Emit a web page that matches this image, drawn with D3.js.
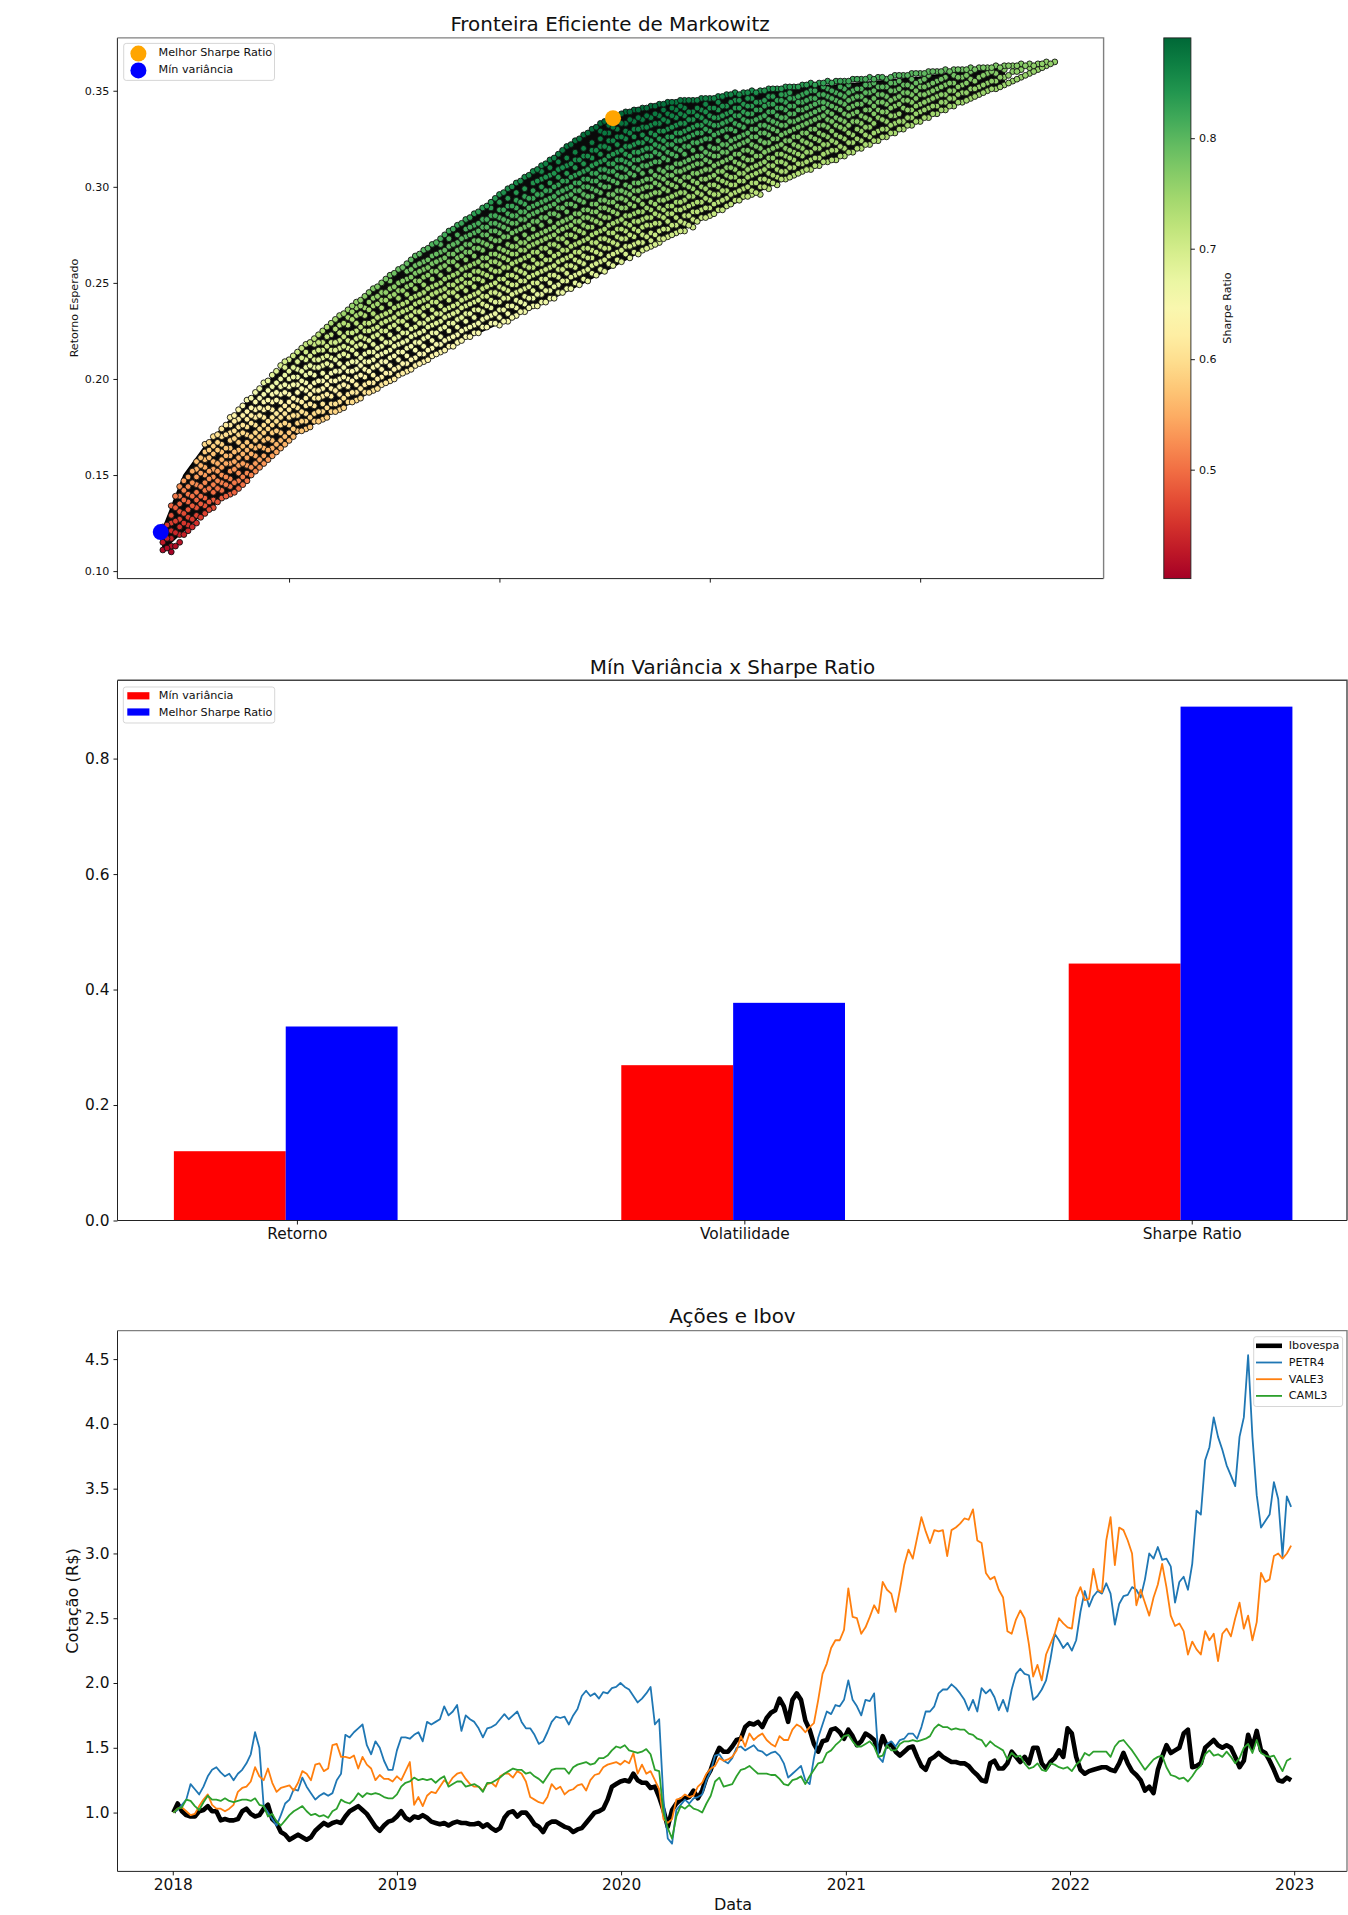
<!DOCTYPE html>
<html>
<head>
<meta charset="utf-8">
<title>Markowitz</title>
<script src="https://cdnjs.cloudflare.com/ajax/libs/d3/7.8.5/d3.min.js"></script>
<style>
    body { margin: 0; background: #fff; }
    svg { display: block; font-family: "DejaVu Sans", sans-serif; }
    .ax path { display: none; }
    .ax line { stroke: #000; stroke-width: 0.9; }
    .ax text { fill: #111; }
</style>
</head>
<body>
<div id="graph"></div>
<script>
// ---- panel 1: values ----
var volTicks = [0.30, 0.35, 0.40, 0.45];
var retTicks = [0.10, 0.15, 0.20, 0.25, 0.30, 0.35];
var sharpeTicks = [0.5, 0.6, 0.7, 0.8];

var bestPoint = [0.377, 0.3357];
var minVarPoint = [0.2695, 0.1203];

// outline of the dense part of the cloud
var edgeVol =   [.270,.275,.280,.290,.300,.310,.320,.330,.340,.350,.360,.370,.380,.390,.400,.410,.420,.430,.440,.450,.460,.470];
var edgeUpper = [.122,.150,.165,.188,.209,.228,.246,.263,.279,.296,.311,.327,.338,.343,.346,.349,.352,.353,.355,.357,.360,.362];
var edgeLower = [.111,.121,.131,.147,.169,.182,.194,.207,.219,.229,.239,.250,.262,.274,.285,.296,.306,.315,.325,.335,.345,.354];

// cloud of portfolios, estimated: [vol, returns...] all in thousandths
var cloud = [
[270,111,115,119,123],
[272,110,113,117,121,125,129,134],
[274,115,119,123,127,131,135,139,144],
[276,121,124,128,132,136,140,144,149],
[278,125,129,133,137,141,145,149,153,157],
[280,130,134,138,142,146,150,154,158,162,166],
[282,133,137,141,145,149,153,157,161,165,170],
[284,138,142,146,150,154,158,162,166,170,174],
[286,140,144,148,152,156,160,164,168,172,176,180],
[288,143,147,151,155,159,163,167,171,175,179,184],
[290,147,151,155,159,163,167,171,175,179,183,189],
[292,152,156,160,164,168,172,176,180,184,188,193],
[294,156,160,164,168,172,176,180,184,188,192,198],
[296,160,164,168,172,176,180,184,188,192,196,202],
[298,164,168,172,176,180,184,188,192,196,200,207],
[300,168,172,176,180,184,188,192,196,200,204,210],
[302,173,177,181,185,189,193,197,201,205,209,214],
[304,174,178,182,186,190,194,198,202,206,210,214,218],
[306,178,182,186,190,194,198,202,206,210,214,218,221],
[308,179,183,187,191,195,199,203,207,211,215,219,225],
[310,183,187,191,195,199,203,207,211,215,219,223,229],
[312,184,188,192,196,200,204,208,212,216,220,224,228,233],
[314,188,192,196,200,204,208,212,216,220,224,228,232,236],
[316,189,193,197,201,205,209,213,217,221,225,229,233,237,240],
[318,193,197,201,205,209,213,217,221,225,229,233,237,243],
[320,194,198,202,206,210,214,218,222,226,230,234,238,242,247],
[322,197,201,205,209,213,217,221,225,229,233,237,241,245,250],
[324,199,203,207,211,215,219,223,227,231,235,239,243,247,251,254],
[326,202,206,210,214,218,222,226,230,234,238,242,246,250,257],
[328,204,208,212,216,220,224,228,232,236,240,244,248,252,256,260],
[330,207,211,215,219,223,227,231,235,239,243,247,251,255,259,264],
[332,209,213,217,221,225,229,233,237,241,245,249,253,257,261,267],
[334,212,216,220,224,228,232,236,240,244,248,252,256,260,264,270],
[336,214,218,222,226,230,234,238,242,246,250,254,258,262,266,270,273],
[338,217,221,225,229,233,237,241,245,249,253,257,261,265,269,273,277],
[340,219,223,227,231,235,239,243,247,251,255,259,263,267,271,275,280],
[342,222,226,230,234,238,242,246,250,254,258,262,266,270,274,278,283],
[344,224,228,232,236,240,244,248,252,256,260,264,268,272,276,280,286],
[346,227,231,235,239,243,247,251,255,259,263,267,271,275,279,283,289],
[348,229,233,237,241,245,249,253,257,261,265,269,273,277,281,285,289,292],
[350,228,232,236,240,244,248,252,256,260,264,268,272,276,280,284,288,292,296],
[352,230,234,238,242,246,250,254,258,262,266,270,274,278,282,286,290,294,299],
[354,233,237,241,245,249,253,257,261,265,269,273,277,281,285,289,293,297,302],
[356,235,239,243,247,251,255,259,263,267,271,275,279,283,287,291,295,299,305],
[358,238,242,246,250,254,258,262,266,270,274,278,282,286,290,294,298,302,308],
[360,240,244,248,252,256,260,264,268,272,276,280,284,288,292,296,300,304,308,311],
[362,242,246,250,254,258,262,266,270,274,278,282,286,290,294,298,302,306,310,314],
[364,245,249,253,257,261,265,269,273,277,281,285,289,293,297,301,305,309,313,317],
[366,247,251,255,259,263,267,271,275,279,283,287,291,295,299,303,307,311,315,321],
[368,250,254,258,262,266,270,274,278,282,286,290,294,298,302,306,310,314,318,324],
[370,252,256,260,264,268,272,276,280,284,288,292,296,300,304,308,312,316,320,327],
[372,255,259,263,267,271,275,279,283,287,291,295,299,303,307,311,315,319,323,330],
[374,257,261,265,269,273,277,281,285,289,293,297,301,305,309,313,317,321,325,329,333],
[376,260,264,268,272,276,280,284,288,292,296,300,304,308,312,316,320,324,328,332,335],
[378,262,266,270,274,278,282,286,290,294,298,302,306,310,314,318,322,326,330,334,337],
[380,265,269,273,277,281,285,289,293,297,301,305,309,313,317,321,325,329,333,339],
[382,266,270,274,278,282,286,290,294,298,302,306,310,314,318,322,326,330,334,340],
[384,267,271,275,279,283,287,291,295,299,303,307,311,315,319,323,327,331,335,341],
[386,269,272,276,280,284,288,292,296,300,304,308,312,316,320,324,328,332,336,342],
[388,271,273,277,281,285,289,293,297,301,305,309,313,317,321,325,329,333,337,343],
[390,274,278,282,286,290,294,298,302,306,310,314,318,322,326,330,334,338,344],
[392,276,280,284,288,292,296,300,304,308,312,316,320,324,328,332,336,340,344],
[394,277,281,285,289,293,297,301,305,309,313,317,321,325,329,333,337,341,345],
[396,279,283,287,291,295,299,303,307,311,315,319,323,327,331,335,339,345],
[398,284,288,292,296,300,304,308,312,316,320,324,328,332,336,340,346],
[400,285,289,293,297,301,305,309,313,317,321,325,329,333,337,341,346],
[402,288,292,296,300,304,308,312,316,320,324,328,332,336,340,344,347],
[404,290,294,298,302,306,310,314,318,322,326,330,334,338,342,348],
[406,293,297,301,305,309,313,317,321,325,329,333,337,341,345,349],
[408,295,299,303,307,311,315,319,323,327,331,335,339,343,349],
[410,296,298,302,306,310,314,318,322,326,330,334,338,342,346,350],
[412,296,300,304,308,312,316,320,324,328,332,336,340,344,350],
[414,299,303,307,311,315,319,323,327,331,335,339,343,347,351],
[416,301,305,309,313,317,321,325,329,333,337,341,345,351],
[418,304,308,312,316,320,324,328,332,336,340,344,348,352],
[420,306,310,314,318,322,326,330,334,338,342,346,352],
[422,308,312,316,320,324,328,332,336,340,344,348,353],
[424,309,314,318,322,326,330,334,338,342,346,350,354],
[426,311,315,320,324,328,332,336,340,344,348,354],
[428,313,318,322,326,331,335,339,343,347,351,355],
[430,314,319,323,327,332,336,341,345,349,355],
[432,316,320,325,330,334,338,343,347,351,355],
[434,318,323,327,334,338,342,346,350,356],
[436,320,324,329,333,337,343,347,351,356],
[438,322,326,331,335,340,344,349,353,357],
[440,324,329,336,340,344,348,352,357],
[442,326,330,334,339,343,347,352,356],
[444,328,333,337,342,346,350,354,358],
[446,330,334,341,345,349,353,358],
[448,332,336,340,344,348,352,356,359],
[450,334,339,343,348,352,355,359],
[452,336,341,345,349,353,358,360],
[454,338,342,347,351,355,360],
[456,340,344,348,353,357,361],
[458,342,346,350,354,358,361],
[460,344,349,353,357,361],
[462,346,351,356,360,362],
[464,348,352,357,362],
[466,350,354,359,362],
[468,351,355,359,363],
[470,353,357,361,363],
[472,355,360,363],
[474,357,361,364],
[476,359,362,364],
[478,361,364],
[480,363,365],
[482,365],
[271,112,117,124],
[273,113,120,126,133,139],
[275,119,125,130,137,142,147],
[277,123,127,134,139,146,152],
[279,128,135,139,144,151,155,159],
[281,132,136,143,148,152,159,163,167],
[283,136,143,147,152,156,163,167,171],
[285,139,145,149,156,160,164,171,176],
[287,141,146,153,157,162,169,173,178,181],
[289,145,149,156,161,165,172,176,181,186],
[291,150,154,161,165,170,177,181,185,190],
[293,154,158,165,170,174,181,185,190,195],
[295,158,163,169,174,178,185,189,194,199],
[297,162,166,173,178,182,189,193,198,204],
[299,166,170,177,182,186,193,197,202,206,209],
[301,170,174,181,186,190,197,201,206,212],
[303,173,178,183,188,195,199,204,211,216],
[305,175,180,187,192,196,203,207,212,219],
[307,178,183,190,194,199,206,210,215,219,223],
[309,180,185,192,197,201,208,212,217,222,227],
[311,183,187,194,199,204,210,215,219,226,231],
[313,185,190,197,201,206,213,217,222,229,234],
[315,188,193,199,204,209,215,219,224,231,235,238],
[317,190,195,202,207,211,218,222,227,234,238,241],
[319,193,198,204,209,214,220,225,229,236,240,245],
[321,195,200,207,212,216,223,227,232,239,243,248],
[323,198,203,209,214,219,225,230,234,241,245,252],
[325,200,205,212,217,221,228,232,237,244,248,255],
[327,203,208,214,219,224,230,235,239,246,251,258],
[329,205,210,217,222,226,233,237,242,249,253,257,262],
[331,208,213,219,224,229,235,240,244,251,256,260,265],
[333,210,215,222,227,231,238,242,247,254,258,262,268],
[335,213,218,224,229,234,240,245,249,256,261,265,271],
[337,215,220,227,232,236,243,247,252,259,263,267,275],
[339,217,222,229,234,238,245,249,254,261,265,270,278],
[341,220,225,232,237,241,248,252,257,264,268,273,281],
[343,222,227,234,239,243,250,254,259,266,270,275,279,284],
[345,224,229,236,241,245,252,256,261,268,272,277,281,287],
[347,227,232,238,243,248,254,259,263,270,275,279,283,290],
[349,229,234,240,245,250,256,261,265,272,277,281,285,294],
[351,230,236,242,247,252,258,263,267,274,279,283,288,297],
[353,232,238,244,249,254,260,265,269,276,281,285,290,300],
[355,235,240,246,251,256,262,267,271,278,283,287,292,303],
[357,237,242,248,253,258,264,269,273,280,285,289,294,306],
[359,238,244,250,255,260,266,271,275,282,287,291,296,303,309],
[361,240,246,252,257,262,268,273,277,284,289,293,298,305,312],
[363,242,248,254,259,264,270,275,279,286,291,295,300,307,315],
[365,245,251,257,262,267,273,278,282,289,294,298,303,310,319],
[367,247,253,259,264,269,275,280,284,291,296,300,305,312,322],
[369,249,255,261,266,271,277,282,286,293,298,302,307,314,325],
[371,251,257,263,268,273,279,284,288,295,300,304,309,316,328],
[373,254,260,266,271,276,282,287,291,298,303,307,312,319,331],
[375,256,262,268,273,278,284,289,293,300,305,309,314,321,328,334],
[377,259,265,271,276,281,287,292,296,303,308,312,317,324,331,336],
[379,261,267,273,278,283,289,294,298,305,310,314,319,326,333,338],
[381,263,269,275,280,285,291,296,300,307,312,316,321,328,335,339],
[383,265,271,277,282,287,293,298,302,309,314,318,323,330,336,340],
[385,268,274,280,284,289,295,300,304,311,316,320,325,331,337,341],
[387,270,275,281,286,291,297,302,306,313,318,322,327,333,338,342],
[389,273,278,284,288,293,299,304,308,315,320,324,329,335,340,343],
[391,275,280,286,290,295,301,306,310,317,322,326,331,337,341,344],
[393,277,282,288,292,297,303,308,312,319,324,328,333,338,342,345],
[395,280,285,290,295,300,305,310,314,321,326,330,335,339,345],
[397,282,287,292,297,302,307,312,316,323,328,332,337,341,345],
[399,284,289,294,299,304,309,314,318,325,330,334,339,343,346],
[401,286,291,296,301,306,311,316,320,327,332,336,341,346],
[403,288,293,298,303,308,313,318,322,329,333,337,342,347],
[405,291,296,301,305,310,315,320,324,330,335,339,344,348],
[407,293,298,303,307,312,317,322,326,332,337,341,345,348],
[409,295,300,305,309,314,319,324,328,334,338,342,346,349],
[411,297,302,307,311,316,321,326,330,335,340,344,349],
[413,300,304,309,313,318,323,328,332,337,342,345,350],
[415,302,306,311,315,320,325,330,334,339,343,347,351],
[417,304,308,313,317,322,327,332,336,341,345,348,351],
[419,305,310,315,319,324,329,334,338,342,346,349,352],
[421,307,312,317,321,326,331,335,340,344,347,352],
[423,309,313,318,323,328,333,337,341,345,349,353],
[425,311,315,320,325,330,335,339,343,346,350,353],
[427,313,317,322,327,332,337,341,344,348,352,354],
[429,314,319,324,329,334,338,342,346,350,354],
[431,316,321,326,331,335,340,344,348,352,355],
[433,318,323,328,332,337,341,345,349,353,355],
[435,320,325,330,334,339,343,347,351,356],
[437,322,327,331,336,340,345,349,353,356],
[439,324,328,333,338,342,346,350,354,356],
[441,326,330,335,339,344,348,352,357],
[443,328,332,337,341,345,350,354,357],
[445,330,334,338,343,347,351,355,358],
[447,332,336,340,345,349,353,358],
[449,334,338,342,346,350,354,359],
[451,336,340,344,348,352,356,359],
[453,338,342,346,350,354,360],
[455,340,344,348,352,356,360],
[457,342,346,350,354,360],
[459,344,348,352,357,361],
[461,345,349,354,358,361],
[463,347,351,355,361],
[465,349,353,358,362],
[467,351,355,360,362],
[469,352,357,362],
[471,354,358,363],
[473,356,360,363],
[475,358,363],
[477,360,363],
[479,362,364],
[481,364]
];

// ---- panel 2 ----
var barCategories = ["Retorno", "Volatilidade", "Sharpe Ratio"];
var minVarValues = [0.12, 0.269, 0.445];
var bestValues = [0.336, 0.377, 0.890];
var barTicks = [0.0, 0.2, 0.4, 0.6, 0.8];

// ---- panel 3: one value per week from 2018-01-02, each row is 13 weeks ----
var ibov = [
1.00,1.07,1.01,.98,.97,.97,1.01,1.02,1.05,1.01,1.01,.94,.95,
.94,.94,.95,1.01,1.03,.99,.97,.98,1.03,1.06,.95,.92,.85,
.83,.79,.81,.83,.81,.79,.81,.86,.89,.92,.90,.92,.93,
.92,.97,1.01,1.03,1.05,1.02,.99,.94,.89,.86,.90,.93,.94,
.97,1.01,.96,.94,.97,.96,.98,.96,.93,.92,.91,.92,.90,
.92,.93,.92,.92,.91,.91,.92,.89,.91,.88,.86,.88,.96,
1.00,1.01,.97,1.00,1.00,.96,.91,.89,.85,.91,.93,.93,.91,
.89,.88,.85,.87,.88,.92,.96,1.00,1.01,1.03,1.10,1.20,1.22,
1.24,1.25,1.24,1.30,1.25,1.23,1.23,1.19,1.20,1.12,1.02,.89,1.02,
1.07,1.10,1.11,1.12,1.17,1.11,1.17,1.27,1.33,1.43,1.50,1.47,1.47,
1.51,1.56,1.57,1.66,1.69,1.68,1.70,1.66,1.73,1.77,1.79,1.88,1.82,
1.70,1.87,1.92,1.87,1.71,1.64,1.53,1.47,1.55,1.56,1.64,1.65,1.62,
1.57,1.64,1.59,1.52,1.55,1.61,1.59,1.56,1.47,1.59,1.51,1.53,1.47,
1.44,1.47,1.50,1.51,1.43,1.36,1.33,1.41,1.43,1.46,1.43,1.41,1.39,
1.39,1.38,1.38,1.36,1.32,1.29,1.25,1.24,1.38,1.40,1.34,1.34,1.38,
1.47,1.43,1.39,1.43,1.38,1.50,1.50,1.38,1.34,1.39,1.42,1.48,1.43,
1.65,1.61,1.43,1.33,1.30,1.32,1.33,1.34,1.35,1.35,1.33,1.32,1.38,
1.46,1.38,1.32,1.29,1.25,1.17,1.20,1.15,1.33,1.43,1.52,1.46,1.48,
1.50,1.61,1.64,1.35,1.36,1.38,1.50,1.53,1.56,1.52,1.50,1.52,1.50,
1.43,1.35,1.40,1.60,1.50,1.63,1.48,1.46,1.40,1.33,1.25,1.24,1.27,
1.25];
var petr4 = [
1.00,1.02,1.06,1.10,1.22,1.18,1.14,1.20,1.28,1.33,1.35,1.31,1.28,
1.30,1.25,1.30,1.33,1.38,1.45,1.62,1.50,1.05,1.00,.95,.90,.98,
1.07,1.10,1.18,1.17,1.27,1.20,1.15,1.10,1.13,1.15,1.13,1.15,1.25,
1.30,1.60,1.58,1.62,1.65,1.68,1.52,1.45,1.55,1.50,1.40,1.33,1.33,
1.48,1.58,1.58,1.57,1.60,1.62,1.55,1.70,1.68,1.70,1.72,1.82,1.75,
1.78,1.83,1.63,1.75,1.72,1.70,1.65,1.58,1.65,1.66,1.68,1.72,1.76,
1.72,1.75,1.78,1.70,1.65,1.65,1.60,1.53,1.55,1.62,1.70,1.74,1.73,
1.74,1.68,1.75,1.80,1.90,1.94,1.90,1.92,1.88,1.93,1.92,1.96,1.97,
2.00,1.97,1.95,1.90,1.85,1.88,1.92,1.97,1.68,1.72,1.10,.80,.76,
1.02,1.06,1.10,1.07,1.11,1.12,1.14,1.25,1.32,1.44,1.45,1.40,1.38,
1.42,1.50,1.51,1.48,1.50,1.52,1.48,1.47,1.44,1.46,1.47,1.44,1.38,
1.27,1.30,1.33,1.36,1.25,1.22,1.42,1.58,1.68,1.78,1.76,1.83,1.82,
1.87,2.02,1.87,1.82,1.75,1.87,1.86,1.92,1.43,1.39,1.53,1.55,1.51,
1.56,1.57,1.61,1.61,1.57,1.66,1.78,1.78,1.82,1.92,1.95,1.95,1.99,
1.96,1.92,1.87,1.79,1.87,1.78,1.96,1.92,1.95,1.89,1.79,1.87,1.78,
1.95,2.07,2.11,2.07,2.06,1.87,1.90,1.95,2.02,2.18,2.38,2.33,2.27,
2.31,2.25,2.33,2.55,2.71,2.59,2.67,2.71,2.69,2.77,2.69,2.45,2.61,
2.67,2.68,2.74,2.72,2.66,2.80,3.00,2.96,3.05,2.95,2.96,2.90,2.62,
2.78,2.82,2.72,2.92,3.33,3.30,3.72,3.82,4.05,3.90,3.80,3.68,3.60,
3.52,3.90,4.05,4.53,3.90,3.45,3.20,3.25,3.30,3.55,3.42,2.98,3.44,
3.36];
var vale3 = [
1.00,1.03,1.04,1.01,.98,.99,1.05,1.10,1.14,1.06,1.03,1.03,1.01,
1.03,1.06,1.16,1.19,1.20,1.24,1.35,1.28,1.25,1.34,1.23,1.16,1.19,
1.20,1.21,1.17,1.23,1.32,1.30,1.25,1.37,1.38,1.32,1.34,1.52,1.53,
1.43,1.43,1.42,1.44,1.34,1.43,1.37,1.34,1.25,1.29,1.26,1.26,1.24,
1.28,1.25,1.32,1.39,1.06,1.12,1.05,1.13,1.16,1.15,1.20,1.25,1.22,
1.27,1.30,1.31,1.26,1.22,1.20,1.20,1.17,1.22,1.23,1.20,1.28,1.30,
1.30,1.27,1.32,1.30,1.24,1.12,1.10,1.08,1.07,1.12,1.22,1.18,1.20,
1.14,1.17,1.18,1.21,1.22,1.17,1.25,1.29,1.30,1.35,1.37,1.38,1.39,
1.37,1.40,1.38,1.46,1.30,1.37,1.30,1.32,1.25,1.18,.95,.92,.95,
1.10,1.11,1.14,1.12,1.13,1.20,1.23,1.30,1.34,1.36,1.42,1.40,1.41,
1.43,1.48,1.59,1.51,1.61,1.56,1.59,1.61,1.56,1.53,1.51,1.59,1.56,
1.56,1.64,1.68,1.66,1.62,1.66,1.69,1.87,2.07,2.15,2.27,2.33,2.33,
2.41,2.73,2.51,2.50,2.38,2.43,2.51,2.60,2.54,2.78,2.72,2.69,2.55,
2.72,2.91,3.03,2.96,3.12,3.28,3.17,3.08,3.18,3.17,3.18,2.98,3.18,
3.20,3.23,3.27,3.26,3.34,3.10,3.08,2.85,2.80,2.82,2.72,2.66,2.40,
2.38,2.49,2.56,2.50,2.30,2.05,2.14,2.02,2.22,2.30,2.38,2.50,2.46,
2.43,2.42,2.66,2.74,2.64,2.65,2.88,2.72,2.70,3.10,3.28,2.91,3.20,
3.18,3.10,3.00,2.60,2.72,2.62,2.52,2.66,2.76,2.92,2.74,2.52,2.44,
2.46,2.40,2.22,2.32,2.26,2.22,2.40,2.33,2.38,2.17,2.38,2.42,2.36,
2.50,2.62,2.42,2.52,2.33,2.47,2.85,2.78,2.80,2.98,3.00,2.96,3.00,
3.06];
var caml3 = [
1.00,1.03,1.04,1.10,1.09,1.05,1.02,1.08,1.13,1.10,1.10,1.09,1.11,
1.09,1.08,1.09,1.10,1.10,1.09,1.11,1.06,1.05,.97,.99,.93,.90,
.94,.98,1.01,1.03,1.05,1.01,.98,.99,.97,.98,.96,1.01,1.03,
1.10,1.08,1.07,1.10,1.15,1.12,1.15,1.14,1.15,1.14,1.12,1.11,1.11,
1.14,1.20,1.23,1.24,1.27,1.25,1.26,1.25,1.26,1.23,1.26,1.28,1.20,
1.22,1.24,1.24,1.20,1.21,1.22,1.20,1.16,1.23,1.23,1.25,1.27,1.30,
1.32,1.34,1.33,1.33,1.30,1.31,1.28,1.26,1.23,1.28,1.33,1.34,1.34,
1.34,1.30,1.35,1.37,1.38,1.39,1.37,1.38,1.42,1.42,1.44,1.48,1.51,
1.50,1.52,1.48,1.47,1.46,1.47,1.49,1.45,1.33,1.32,1.00,.88,.80,
.97,1.05,1.03,1.06,1.03,1.02,1.00,1.07,1.13,1.24,1.27,1.20,1.21,
1.22,1.28,1.33,1.34,1.36,1.33,1.30,1.30,1.30,1.29,1.29,1.26,1.22,
1.21,1.25,1.26,1.28,1.22,1.28,1.33,1.38,1.39,1.46,1.48,1.52,1.55,
1.59,1.60,1.55,1.51,1.51,1.53,1.55,1.51,1.43,1.44,1.52,1.48,1.48,
1.53,1.55,1.55,1.56,1.55,1.56,1.57,1.59,1.65,1.68,1.66,1.66,1.64,
1.65,1.64,1.64,1.61,1.60,1.57,1.56,1.51,1.55,1.52,1.50,1.48,1.41,
1.46,1.43,1.44,1.38,1.34,1.35,1.38,1.33,1.32,1.38,1.37,1.35,1.34,
1.35,1.32,1.37,1.40,1.46,1.44,1.47,1.47,1.47,1.47,1.43,1.51,1.55,
1.56,1.52,1.48,1.43,1.38,1.33,1.37,1.41,1.43,1.44,1.35,1.29,1.28,
1.26,1.27,1.24,1.28,1.33,1.36,1.45,1.48,1.44,1.45,1.43,1.47,1.43,
1.38,1.42,1.50,1.53,1.46,1.56,1.46,1.44,1.43,1.44,1.38,1.32,1.40,
1.42];
var lineTicks = [1.0, 1.5, 2.0, 2.5, 3.0, 3.5, 4.0, 4.5];
var yearTicks = [2018, 2019, 2020, 2021, 2022, 2023];
var startDate = new Date(2018, 0, 2);

var svg = d3.select("#graph").append("svg").attr("width", 1348).attr("height", 1915);

function frame(x0, x1, y0, y1, edge) {
    svg.append("path").attr("fill", "none").attr("stroke", "#222").attr("stroke-width", 1)
        .attr("d", `M${x0},${y0}V${y1}H${x1}`);
    svg.append("path").attr("fill", "none").attr("stroke", edge).attr("stroke-width", 1.4)
        .attr("d", `M${x0},${y0}H${x1}V${y1}`);
}
function title(txt, x, y, size) {
    svg.append("text").attr("x", x).attr("y", y).attr("text-anchor", "middle")
        .attr("font-size", size).attr("fill", "#111").text(txt);
}
function legendBox(x, y, w, h) {
    svg.append("rect").attr("x", x).attr("y", y).attr("width", w).attr("height", h).attr("rx", 2.5)
        .attr("fill", "#fff").attr("fill-opacity", 0.8).attr("stroke", "#ccc").attr("stroke-opacity", 0.8);
}
function legendText(txt, x, y) {
    svg.append("text").attr("x", x).attr("y", y).attr("font-size", 11.2).attr("fill", "#111")
        .attr("dominant-baseline", "central").text(txt);
}

// ---- Fronteira ----
var xVol = d3.scaleLinear().domain([0.2592, 0.4936]).range([117.4, 1103.6]);
var yRet = d3.scaleLinear().domain([0.0961, 0.3775]).range([578.6, 37.9]);
var sharpeY = d3.scaleLinear().domain([0.4014, 0.8908]).range([578.6, 37.9]);
var color = d3.scaleSequential(d3.interpolateRdYlGn).domain([0.4014, 0.8908]);

svg.append("path")
    .datum(edgeVol.map((v, i) => [v, edgeLower[i], edgeUpper[i]]))
    .attr("fill", "#0a0a0a").attr("stroke", "#000").attr("stroke-width", 1.5)
    .attr("d", d3.area().x(d => xVol(d[0])).y0(d => yRet(d[1])).y1(d => yRet(d[2])));

var cloudPoints = [];
cloud.forEach(col => {
    col.slice(1).forEach(r => cloudPoints.push([col[0] / 1000, r / 1000]));
});
svg.append("g").selectAll("circle").data(cloudPoints).enter().append("circle")
    .attr("cx", d => xVol(d[0])).attr("cy", d => yRet(d[1])).attr("r", 2.9)
    .attr("fill", d => color(d[1] / d[0]))
    .attr("stroke", "#111").attr("stroke-width", 0.9);

svg.append("circle").attr("cx", xVol(bestPoint[0])).attr("cy", yRet(bestPoint[1])).attr("r", 8).attr("fill", "orange");
svg.append("circle").attr("cx", xVol(minVarPoint[0])).attr("cy", yRet(minVarPoint[1])).attr("r", 8).attr("fill", "blue");

frame(117.4, 1103.6, 37.9, 578.6, "#808080");
svg.append("g").attr("class", "ax").attr("transform", "translate(117.4,0)")
    .call(d3.axisLeft(yRet).tickValues(retTicks).tickFormat(d3.format(".2f")).tickSize(4).tickPadding(4))
    .attr("font-size", 11.1).attr("font-family", null);
svg.append("g").attr("class", "ax").attr("transform", "translate(0,578.6)")
    .call(d3.axisBottom(xVol).tickValues(volTicks).tickFormat("").tickSize(4));
title("Fronteira Eficiente de Markowitz", 610, 31, 19.9);
svg.append("text").attr("transform", "translate(77.5,308) rotate(-90)").attr("text-anchor", "middle")
    .attr("font-size", 11.1).attr("fill", "#111").text("Retorno Esperado");

legendBox(123.7, 43.4, 150.8, 37);
svg.append("circle").attr("cx", 138.4).attr("cy", 53.6).attr("r", 8).attr("fill", "orange");
svg.append("circle").attr("cx", 138.4).attr("cy", 70.4).attr("r", 8).attr("fill", "blue");
legendText("Melhor Sharpe Ratio", 158.5, 52.8);
legendText("Mín variância", 158.5, 69.6);

// colorbar
var grad = svg.append("defs").append("linearGradient").attr("id", "cbar")
    .attr("x1", 0).attr("x2", 0).attr("y1", 1).attr("y2", 0);
d3.range(0, 1.0001, 0.05).forEach(t => {
    grad.append("stop").attr("offset", t).attr("stop-color", d3.interpolateRdYlGn(t));
});
svg.append("rect").attr("x", 1163.8).attr("y", 37.9).attr("width", 27.1).attr("height", 540.7)
    .attr("fill", "url(#cbar)").attr("stroke", "#222").attr("stroke-width", 0.9);
svg.append("g").attr("class", "ax").attr("transform", "translate(1190.9,0)")
    .call(d3.axisRight(sharpeY).tickValues(sharpeTicks).tickFormat(d3.format(".1f")).tickSize(4).tickPadding(4))
    .attr("font-size", 11.1).attr("font-family", null);
svg.append("text").attr("transform", "translate(1231,308) rotate(-90)").attr("text-anchor", "middle")
    .attr("font-size", 11.1).attr("fill", "#111").text("Sharpe Ratio");

// ---- Barras ----
var xBar = d3.scaleLinear().domain([-0.376, 2.372]).range([117.5, 1347]);
var yBar = d3.scaleLinear().domain([0, 0.9356]).range([1220.5, 680.3]);
var barWidth = 0.25;

svg.append("g").selectAll("rect").data(minVarValues).enter().append("rect")
    .attr("x", (d, i) => xBar(i - barWidth)).attr("width", xBar(barWidth) - xBar(0))
    .attr("y", d => yBar(d)).attr("height", d => yBar(0) - yBar(d)).attr("fill", "#f00");
svg.append("g").selectAll("rect").data(bestValues).enter().append("rect")
    .attr("x", (d, i) => xBar(i)).attr("width", xBar(barWidth) - xBar(0))
    .attr("y", d => yBar(d)).attr("height", d => yBar(0) - yBar(d)).attr("fill", "#00f");

frame(117.5, 1347, 680.3, 1220.5, "#444");
svg.append("g").attr("class", "ax").attr("transform", "translate(117.5,0)")
    .call(d3.axisLeft(yBar).tickValues(barTicks).tickFormat(d3.format(".1f")).tickSize(4).tickPadding(4))
    .attr("font-size", 15.4).attr("font-family", null);
svg.append("g").attr("class", "ax").attr("transform", "translate(0,1220.5)")
    .call(d3.axisBottom(xBar).tickValues([0.025, 1.025, 2.025]).tickFormat((d, i) => barCategories[i]).tickSize(4).tickPadding(4))
    .attr("font-size", 15.4).attr("font-family", null);
title("Mín Variância x Sharpe Ratio", 732.5, 674, 19.9);

legendBox(123.3, 687, 151.4, 36);
svg.append("rect").attr("x", 127.3).attr("y", 692.2).attr("width", 22.1).attr("height", 7.2).attr("fill", "#f00");
svg.append("rect").attr("x", 127.3).attr("y", 708.4).attr("width", 22.1).attr("height", 7.2).attr("fill", "#00f");
legendText("Mín variância", 158.8, 695.6);
legendText("Melhor Sharpe Ratio", 158.8, 712);

// ---- Linhas ----
var xTime = d3.scaleTime().domain([new Date(2017, 9, 3), new Date(2023, 2, 28)]).range([117.5, 1347]);
var yLine = d3.scaleLinear().domain([0.546, 4.72]).range([1871.4, 1330.6]);
var weekDate = i => d3.timeDay.offset(startDate, i * 7);
var line = d3.line().x((d, i) => xTime(weekDate(i))).y(d => yLine(d)).curve(d3.curveLinear);

var series = [
    {name: "Ibovespa", values: ibov, stroke: "#000", width: 4.6},
    {name: "PETR4", values: petr4, stroke: "#1f77b4", width: 1.8},
    {name: "VALE3", values: vale3, stroke: "#ff7f0e", width: 1.8},
    {name: "CAML3", values: caml3, stroke: "#2ca02c", width: 1.8}
];
svg.append("g").selectAll("path").data(series).enter().append("path")
    .attr("fill", "none").attr("stroke", d => d.stroke).attr("stroke-width", d => d.width)
    .attr("stroke-linejoin", "round")
    .attr("d", d => line(d.values));

frame(117.5, 1347, 1330.6, 1871.4, "#808080");
svg.append("g").attr("class", "ax").attr("transform", "translate(117.5,0)")
    .call(d3.axisLeft(yLine).tickValues(lineTicks).tickFormat(d3.format(".1f")).tickSize(4).tickPadding(4))
    .attr("font-size", 15.4).attr("font-family", null);
svg.append("g").attr("class", "ax").attr("transform", "translate(0,1871.4)")
    .call(d3.axisBottom(xTime).tickValues(yearTicks.map(y => new Date(y, 0, 1))).tickFormat(d3.timeFormat("%Y")).tickSize(4).tickPadding(4))
    .attr("font-size", 15.4).attr("font-family", null);
title("Ações e Ibov", 732.5, 1323, 19.9);
svg.append("text").attr("x", 733).attr("y", 1910).attr("text-anchor", "middle")
    .attr("font-size", 16).attr("fill", "#111").text("Data");
svg.append("text").attr("transform", "translate(78,1601) rotate(-90)").attr("text-anchor", "middle")
    .attr("font-size", 16.2).attr("fill", "#111").text("Cotação (R$)");

legendBox(1253.7, 1336.7, 88.9, 69.8);
var legendY = d3.scalePoint().domain(series.map(d => d.name)).range([1345.8, 1395.9]);
series.forEach(s => {
    svg.append("line").attr("x1", 1256).attr("x2", 1282).attr("y1", legendY(s.name)).attr("y2", legendY(s.name))
        .attr("stroke", s.stroke).attr("stroke-width", s.width);
    legendText(s.name, 1288.8, legendY(s.name));
});
</script>
</body>
</html>
